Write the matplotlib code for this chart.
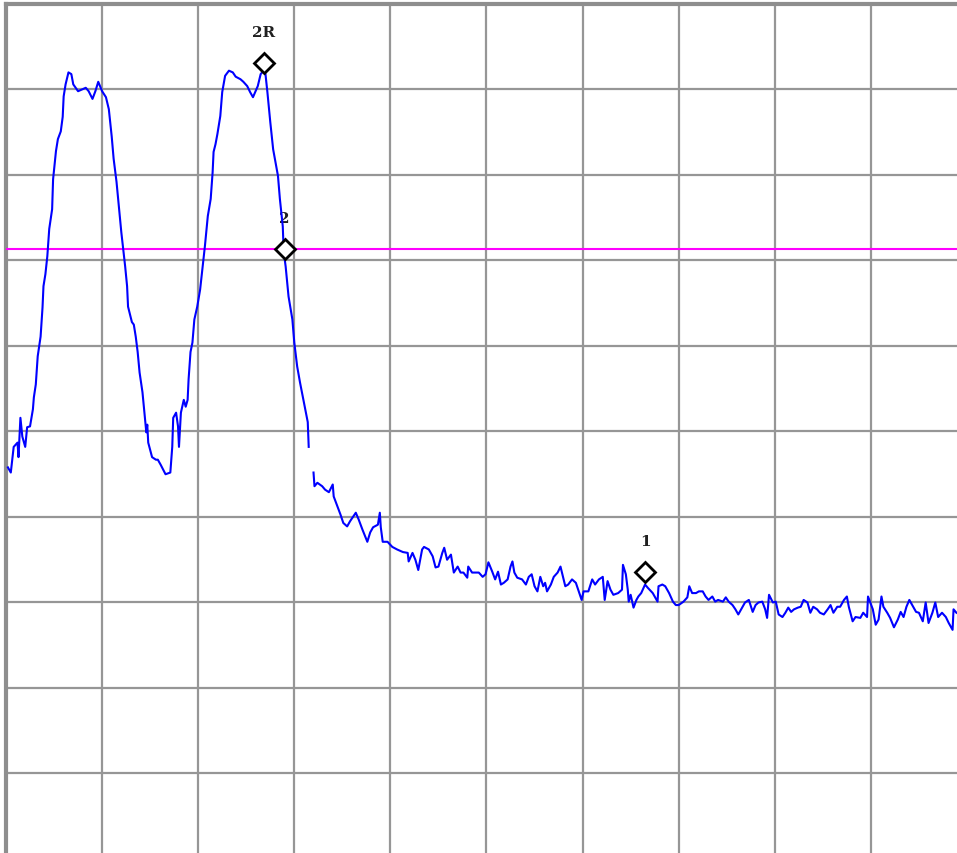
import numpy as np
import matplotlib
matplotlib.use("Agg")
import matplotlib.pyplot as plt

# spectrum trace (100 MHz/div, 10 dB/div, ref 0 dB at top)
freq_mhz = [2, 5, 8, 12, 13, 15, 17, 20, 22, 25, 28, 29, 31, 33, 36, 38, 39, 41, 43, 45,
            48, 49, 52, 54, 57, 59, 60, 62, 65, 68, 70, 75, 83, 86, 90, 93, 96, 100, 104, 107,
            110, 112, 115, 117, 120, 122, 124, 126, 127, 131, 133, 135, 137, 139, 142, 144, 146, 147, 148, 152,
            156, 158, 161, 166, 171, 173, 174, 177, 179, 180, 182, 185, 187, 189, 190, 192, 194, 196, 199, 202,
            204, 207, 210, 213, 215, 216, 218, 220, 223, 225, 228, 232, 236, 239, 244, 247, 251, 254, 257, 262,
            265, 268, 270, 272, 275, 278, 283, 285, 288, 289, 291, 294, 298, 300, 303, 306, 310, 314, 315, 317,
            320, 321, 324, 329, 332, 336, 340, 341, 345, 348, 351, 355, 358, 364, 367, 371, 376, 379, 382, 387,
            389, 390, 392, 397, 402, 407, 413, 418, 419, 423, 426, 429, 433, 435, 440, 444, 447, 450, 454, 456,
            459, 463, 466, 470, 473, 476, 480, 481, 485, 488, 492, 496, 499, 502, 506, 509, 512, 515, 518, 522,
            525, 527, 529, 532, 537, 541, 544, 547, 550, 553, 556, 559, 561, 563, 567, 570, 574, 577, 579, 582,
            585, 589, 593, 596, 599, 601, 606, 610, 613, 617, 621, 623, 626, 629, 632, 637, 641, 642, 645, 647,
            648, 650, 653, 656, 658, 661, 665, 668, 673, 678, 679, 683, 686, 690, 694, 697, 700, 705, 709, 711,
            714, 718, 721, 725, 728, 731, 735, 738, 741, 746, 749, 752, 756, 759, 762, 766, 769, 773, 777, 780,
            783, 787, 790, 792, 794, 798, 801, 804, 808, 811, 814, 817, 820, 824, 827, 830, 834, 837, 840, 844,
            847, 851, 855, 858, 861, 865, 868, 872, 875, 877, 881, 884, 889, 892, 896, 897, 902, 905, 908, 911,
            913, 917, 920, 924, 928, 931, 934, 937, 940, 944, 947, 950, 954, 957, 960, 964, 967, 970, 974, 978,
            981, 985, 986, 989]
level_db = [-54.2, -54.8, -51.8, -51.3, -53.0, -48.4, -50.6, -51.8, -49.5, -49.4, -47.4, -46.0, -44.5, -41.2, -38.9, -35.5, -33.0, -31.6, -29.5, -26.3,
            -24.0, -20.5, -17.2, -15.8, -14.9, -13.2, -10.8, -9.4, -8.0, -8.2, -9.4, -10.2, -9.8, -10.2, -11.1, -10.2, -9.1, -10.2, -10.9, -12.3,
            -15.5, -18.1, -20.8, -23.2, -26.7, -28.7, -30.7, -33.0, -35.4, -37.2, -37.5, -38.9, -40.7, -43.1, -45.4, -47.8, -50.1, -49.2, -51.3, -53.0,
            -53.3, -53.3, -53.9, -55.0, -54.8, -51.8, -48.4, -47.8, -49.4, -51.8, -47.8, -46.3, -47.1, -46.3, -43.9, -40.7, -39.6, -36.9, -35.4, -33.4,
            -31.4, -28.3, -24.8, -22.8, -19.7, -17.3, -16.4, -15.2, -13.1, -10.3, -8.4, -7.8, -8.0, -8.5, -8.8, -9.1, -9.6, -10.3, -10.9, -9.6,
            -8.2, -7.8, -8.2, -10.3, -13.8, -17.0, -20.1, -22.8, -26.0, -29.0, -30.7, -34.2, -36.9, -39.6, -42.4, -44.3, -46.6, -48.9, -51.8, np.nan,
            -54.8, -56.4, -56.0, -56.4, -56.8, -57.1, -56.2, -57.6, -58.8, -59.7, -60.7, -61.1, -60.5, -59.5, -60.3, -61.5, -62.9, -61.8, -61.2, -60.9,
            -59.5, -61.2, -62.9, -62.9, -63.5, -63.8, -64.1, -64.2, -65.2, -64.2, -65.0, -66.2, -63.8, -63.5, -63.8, -64.6, -65.9, -65.8, -64.2, -63.6,
            -65.0, -64.4, -66.5, -65.8, -66.5, -66.5, -67.1, -65.8, -66.5, -66.5, -66.5, -67.0, -66.7, -65.3, -66.4, -67.3, -66.4, -67.9, -67.7, -67.3,
            -65.8, -65.2, -66.5, -67.1, -67.3, -67.9, -67.0, -66.7, -68.1, -68.7, -67.0, -68.1, -67.7, -68.7, -67.9, -67.0, -66.5, -65.8, -66.7, -68.1,
            -67.9, -67.3, -67.7, -68.7, -69.7, -68.7, -68.7, -67.3, -67.9, -67.3, -67.0, -69.7, -67.5, -68.5, -69.1, -68.9, -68.5, -65.6, -66.7, -68.5,
            -69.9, -69.1, -70.6, -69.7, -69.3, -68.9, -67.9, -68.3, -68.9, -69.9, -68.1, -67.9, -68.1, -68.9, -69.9, -70.3, -70.3, -69.9, -69.4, -68.1,
            -68.9, -68.9, -68.7, -68.7, -69.3, -69.7, -69.3, -69.9, -69.7, -69.9, -69.4, -69.9, -70.3, -70.8, -71.4, -70.6, -70.0, -69.7, -71.1, -70.3,
            -70.0, -69.9, -70.8, -71.8, -69.1, -70.0, -69.9, -71.4, -71.7, -71.2, -70.6, -71.1, -70.8, -70.6, -70.5, -69.7, -70.0, -71.2, -70.5, -70.8,
            -71.2, -71.4, -70.8, -70.3, -71.2, -70.5, -70.5, -69.7, -69.3, -70.5, -72.2, -71.7, -71.8, -71.2, -71.7, -69.3, -70.8, -72.6, -72.0, -69.3,
            -70.5, -71.2, -71.8, -72.9, -72.0, -71.1, -71.7, -70.5, -69.7, -70.5, -71.1, -71.2, -72.2, -70.0, -72.4, -71.2, -70.0, -71.7, -71.2, -71.7,
            -72.4, -73.2, -70.8, -71.2]

display_line_db = -28.7

marker_names = ["1", "2R", "2"]
marker_freq = [665, 268, 290]
marker_level = [-66.4, -6.9, -28.6]

fig = plt.figure(figsize=(9.57, 8.54), dpi=100)
ax = fig.add_axes([6 / 957, 0, 951 / 957, 849 / 854])
ax.set_xlim(0, 989.6)
ax.set_ylim(-99.3, 0)

ax.set_xticks(np.arange(100, 1000, 100))
ax.set_yticks(np.arange(-90, 0, 10))
ax.grid(True, color="#969696", linewidth=1.6)
ax.tick_params(length=0, labelbottom=False, labelleft=False)
ax.set_axisbelow(True)
for side in ["right", "bottom"]:
    ax.spines[side].set_visible(False)
for side in ["left", "top"]:
    ax.spines[side].set_color("#8e8e8e")
    ax.spines[side].set_linewidth(3)

ax.axhline(display_line_db, color="#ff00ff", linewidth=1.5, zorder=3)
ax.plot(freq_mhz, level_db, color="#0000ff", linewidth=1.5, zorder=4)

ax.plot(marker_freq, marker_level, linestyle="none", marker="D", ms=10.5,
        mfc="white", mec="black", mew=2, zorder=5)
for name, f, lv in zip(marker_names, marker_freq, marker_level):
    ax.annotate(name, (f, lv), xytext=(0, 22), textcoords="offset points",
                ha="center", va="center", fontsize=11, fontweight="bold",
                family="DejaVu Serif", color="#202020")

fig.savefig("out.png", dpi=100)
